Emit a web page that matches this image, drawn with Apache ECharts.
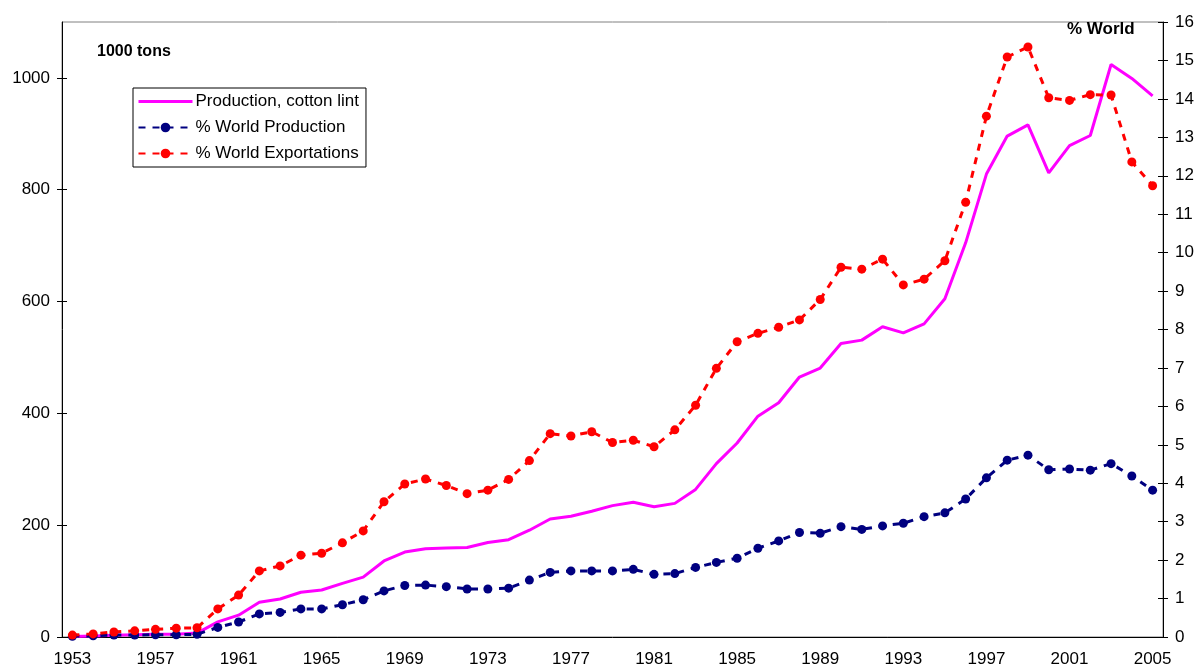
<!DOCTYPE html>
<html>
<head>
<meta charset="utf-8">
<script src="https://cdn.jsdelivr.net/npm/echarts@6/dist/echarts.min.js"></script>
<style>
  html, body { margin: 0; padding: 0; background: #fff; }
  #chart { width: 1199px; height: 670px; }
</style>
</head>
<body>
<div id="chart"></div>
<script>
const years = [];
for (let y = 1953; y <= 2005; y++) years.push(String(y));

// Production, cotton lint (1000 tons)
const production = [
  1, 2, 3, 4, 5, 5, 7, 27, 39, 62,        // 1953-1962
  68, 80, 84, 96, 107, 136, 152, 158, 159, 160, // 1963-1972
  169, 174, 191, 211, 216, 225, 235, 241, 233, 239, // 1973-1982
  264, 310, 347, 395, 419, 465, 481, 525, 531, 555, // 1983-1992
  544, 560, 605, 705, 828, 896, 916, 830, 879, 897, // 1993-2002
  1024, 999, 968                          // 2003-2005
];

// % World Production
const worldProduction = [
  0.02, 0.03, 0.05, 0.05, 0.06, 0.06, 0.07, 0.25, 0.39, 0.60,
  0.64, 0.73, 0.73, 0.84, 0.97, 1.20, 1.34, 1.35, 1.31, 1.25,
  1.25, 1.27, 1.48, 1.68, 1.72, 1.72, 1.72, 1.76, 1.63, 1.65,
  1.81, 1.94, 2.05, 2.31, 2.50, 2.72, 2.70, 2.87, 2.80, 2.89,
  2.96, 3.13, 3.23, 3.59, 4.14, 4.60, 4.73, 4.35, 4.37, 4.34,
  4.51, 4.19, 3.82
];

// % World Exportations
const worldExportations = [
  0.05, 0.08, 0.13, 0.16, 0.20, 0.23, 0.24, 0.73, 1.09, 1.72,
  1.85, 2.13, 2.18, 2.45, 2.76, 3.52, 3.98, 4.11, 3.94, 3.73,
  3.82, 4.10, 4.59, 5.29, 5.23, 5.34, 5.06, 5.12, 4.95, 5.39,
  6.03, 6.99, 7.68, 7.90, 8.06, 8.25, 8.78, 9.62, 9.57, 9.83,
  9.16, 9.31, 9.79, 11.31, 13.55, 15.09, 15.35, 14.03, 13.96, 14.11,
  14.10, 12.36, 11.74
];

const leftTicks = [0, 200, 400, 600, 800, 1000];
const seriesNames = ['Production, cotton lint', '% World Production', '% World Exportations'];
const leftAxisTitle = '1000 tons';
const rightAxisTitle = '% World';

const FONT = '"Liberation Sans", Arial, sans-serif';
const chart = echarts.init(document.getElementById('chart'), null, { renderer: 'canvas' });

const leftBase = { type: 'value', min: 0, max: 1100, splitLine: { show: false } };
const rightBase = { type: 'value', min: 0, max: 16, interval: 1, splitLine: { show: false } };

chart.setOption({
  animation: false,
  backgroundColor: '#ffffff',
  textStyle: { fontFamily: FONT },
  grid: {
    left: 62, right: 36, top: 22, bottom: 33,
    show: true, borderColor: '#808080', borderWidth: 1, backgroundColor: 'transparent'
  },
  legend: {
    orient: 'vertical',
    left: 133, top: 88,
    itemWidth: 54, itemHeight: 12, itemGap: 9,
    padding: [5, 7, 5, 4],
    borderColor: '#000', borderWidth: 1,
    backgroundColor: '#fff',
    textStyle: { fontSize: 17, color: '#000', fontFamily: FONT, padding: [0, 0, 0, -2] },
    data: [
      { name: seriesNames[0], itemStyle: { opacity: 0 }, lineStyle: { width: 3, color: '#FF00FF', opacity: 1 } },
      { name: seriesNames[1] },
      { name: seriesNames[2] }
    ]
  },
  graphic: [
    { type: 'text', left: 97, top: 44, style: { text: leftAxisTitle, font: 'bold 16px ' + FONT, fill: '#000' } },
    { type: 'text', left: 1067, top: 21, style: { text: rightAxisTitle, font: 'bold 17px ' + FONT, fill: '#000' } }
  ],
  xAxis: [
    {
      type: 'category', data: years, boundaryGap: true, position: 'bottom',
      axisLine: { lineStyle: { color: '#000', width: 1 } },
      axisTick: { interval: 0, length: 5, lineStyle: { color: '#000' } },
      axisLabel: { interval: 3, color: '#000', fontSize: 17, margin: 14, fontFamily: FONT },
      splitLine: { show: false }
    },
    {
      type: 'category', data: years, boundaryGap: true, position: 'bottom',
      axisLine: { show: false },
      axisTick: { interval: 0, inside: true, length: 5, lineStyle: { color: '#000' } },
      axisLabel: { show: false },
      splitLine: { show: false }
    }
  ],
  yAxis: [
    Object.assign({}, leftBase, {
      position: 'left',
      axisLine: { show: true, lineStyle: { color: '#000' } },
      axisTick: { show: true, length: 5, customValues: leftTicks, lineStyle: { color: '#000' } },
      axisLabel: { color: '#000', fontSize: 17, margin: 12, customValues: leftTicks, fontFamily: FONT,
        formatter: v => String(v) }
    }),
    Object.assign({}, rightBase, {
      position: 'right',
      axisLine: { show: true, lineStyle: { color: '#000' } },
      axisTick: { show: true, length: 5, lineStyle: { color: '#000' } },
      axisLabel: { color: '#000', fontSize: 17, margin: 12, fontFamily: FONT }
    }),
    Object.assign({}, leftBase, {
      position: 'left',
      axisLine: { show: false },
      axisTick: { show: true, inside: true, length: 5, customValues: leftTicks, lineStyle: { color: '#000' } },
      axisLabel: { show: false }
    }),
    Object.assign({}, rightBase, {
      position: 'right',
      axisLine: { show: false },
      axisTick: { show: true, inside: true, length: 5, lineStyle: { color: '#000' } },
      axisLabel: { show: false }
    })
  ],
  series: [
    {
      name: seriesNames[0], type: 'line', xAxisIndex: 0, yAxisIndex: 0,
      data: production, symbol: 'none',
      lineStyle: { color: '#FF00FF', width: 3 },
      itemStyle: { color: '#FF00FF' },
      z: 3
    },
    {
      name: seriesNames[1], type: 'line', xAxisIndex: 0, yAxisIndex: 1,
      data: worldProduction, symbol: 'circle', symbolSize: 9, showSymbol: true,
      lineStyle: { color: '#000080', width: 3, type: [7, 7] },
      itemStyle: { color: '#000080' },
      z: 4
    },
    {
      name: seriesNames[2], type: 'line', xAxisIndex: 0, yAxisIndex: 1,
      data: worldExportations, symbol: 'circle', symbolSize: 9, showSymbol: true,
      lineStyle: { color: '#FF0000', width: 3, type: [7, 7] },
      itemStyle: { color: '#FF0000' },
      z: 4
    }
  ]
});
</script>
</body>
</html>
